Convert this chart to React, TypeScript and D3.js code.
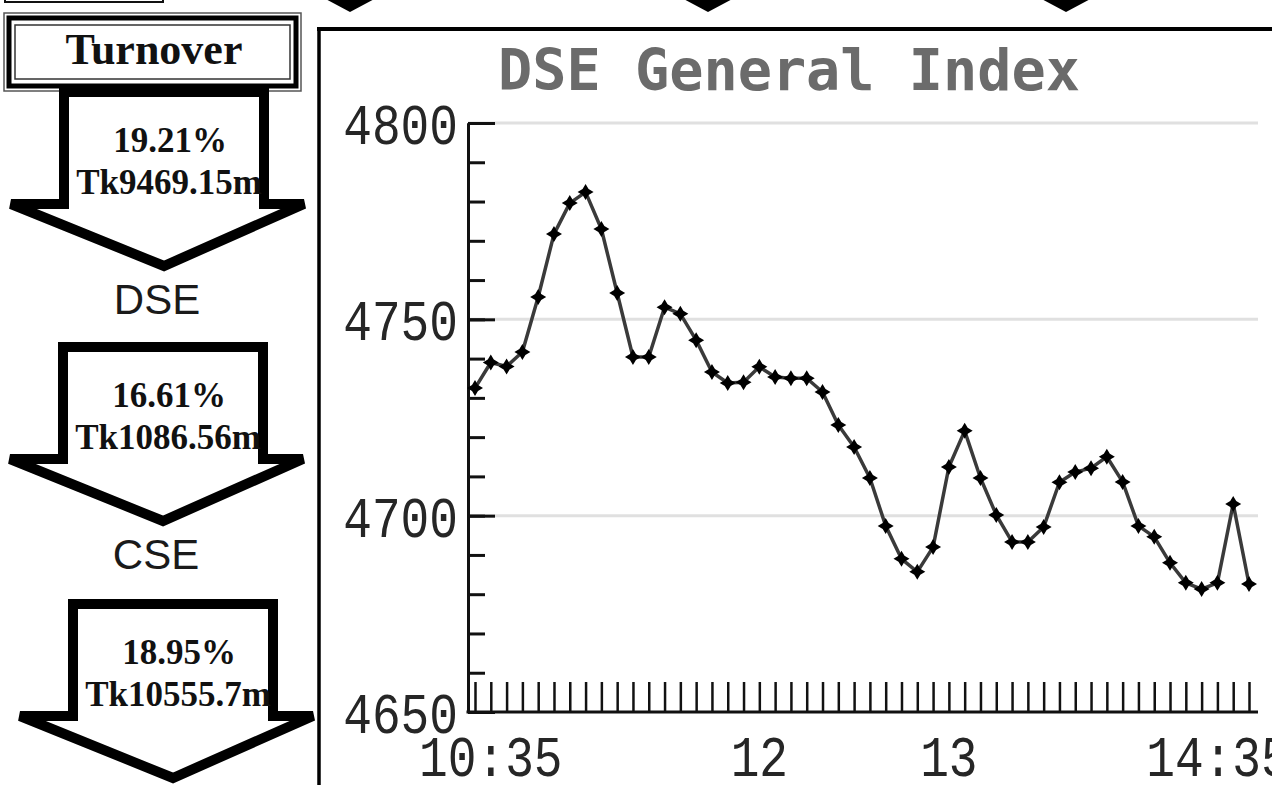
import React, { useEffect, useRef } from 'react'
import * as d3 from 'd3'

const W = 1272
const H = 785

// DSE General Index, one reading every five minutes
const times = ['10:30', '10:35', '10:40', '10:45', '10:50', '10:55', '11:00', '11:05', '11:10', '11:15',
  '11:20', '11:25', '11:30', '11:35', '11:40', '11:45', '11:50', '11:55', '12:00', '12:05',
  '12:10', '12:15', '12:20', '12:25', '12:30', '12:35', '12:40', '12:45', '12:50', '12:55',
  '13:00', '13:05', '13:10', '13:15', '13:20', '13:25', '13:30', '13:35', '13:40', '13:45',
  '13:50', '13:55', '14:00', '14:05', '14:10', '14:15', '14:20', '14:25', '14:30', '14:35']
const indexValues = [4732.5, 4739, 4738, 4741.7, 4755.7, 4771.7, 4779.6, 4782.4, 4773, 4756.7,
  4740.4, 4740.4, 4753.1, 4751.4, 4744.7, 4736.6, 4733.8, 4734, 4737.9, 4735.3,
  4735, 4735, 4731.5, 4723.1, 4717.5, 4709.6, 4697.4, 4689, 4685.7, 4692,
  4712.4, 4721.6, 4709.6, 4700.2, 4693.3, 4693.3, 4697.1, 4708.5, 4711.1, 4712.1,
  4715, 4708.6, 4697.4, 4694.6, 4688, 4682.9, 4681.3, 4682.9, 4703, 4682.6]

const yTicks = [4650, 4700, 4750, 4800]
const xLabelTimes = ['10:35', '12:00', '13:00', '14:35']
const xLabels = ['10:35', '12', '13', '14:35']

// turnover arrows
const markets = ['DSE', 'CSE', '']
const turnoverPct = ['19.21%', '16.61%', '18.95%']
const turnoverAmt = ['Tk9469.15m', 'Tk1086.56m', 'Tk10555.7m']

const parse = d3.timeParse('%H:%M')

export default function App() {
  const ref = useRef<SVGSVGElement>(null)

  useEffect(() => {
    const svg = d3.select(ref.current)
    svg.selectAll('*').remove()

    // bits of the row above, cut off at the top
    svg.append('rect').attr('x', 5).attr('y', -20).attr('width', 158).attr('height', 22)
      .attr('fill', 'none').attr('stroke', '#111').attr('stroke-width', 2)
    ;[350, 708, 1066].forEach(cx => {
      svg.append('path').attr('d', `M${cx - 30},-4L${cx},12L${cx + 30},-4Z`).attr('fill', '#000')
    })

    // Turnover box
    svg.append('rect').attr('x', 4).attr('y', 13).attr('width', 297).attr('height', 78)
      .attr('fill', '#fff').attr('stroke', '#555').attr('stroke-width', 1.5)
    svg.append('rect').attr('x', 9).attr('y', 18).attr('width', 287).attr('height', 68)
      .attr('fill', 'none').attr('stroke', '#000').attr('stroke-width', 5)
    svg.append('rect').attr('x', 15).attr('y', 25).attr('width', 275).attr('height', 54)
      .attr('fill', 'none').attr('stroke', '#333').attr('stroke-width', 1.5)
    svg.append('text').attr('x', 154).attr('y', 64).attr('text-anchor', 'middle')
      .style('font-family', '"Liberation Serif", serif').style('font-weight', 'bold')
      .style('font-size', '44px').attr('fill', '#111').text('Turnover')

    // arrows
    const arrowTops = [92, 347, 604]
    const arrowCx = [164, 163, 173]
    const arrowPath = (cx: number, top: number) => {
      const p = d3.path()
      p.moveTo(cx - 100, top)
      p.lineTo(cx + 100, top)
      p.lineTo(cx + 100, top + 112)
      p.lineTo(cx + 140, top + 112)
      p.lineTo(cx, top + 174)
      p.lineTo(cx - 153, top + 112)
      p.lineTo(cx - 100, top + 112)
      p.closePath()
      return p.toString()
    }
    turnoverPct.forEach((pct, i) => {
      const cx = arrowCx[i]
      const top = arrowTops[i]
      svg.append('path').attr('d', arrowPath(cx, top)).attr('fill', '#fff')
        .attr('stroke', '#000').attr('stroke-width', 10).attr('stroke-linejoin', 'miter')
      const t = svg.append('g').attr('text-anchor', 'middle')
        .style('font-family', '"Liberation Serif", serif').style('font-weight', 'bold')
        .style('font-size', '35px').attr('fill', '#111')
      t.append('text').attr('x', cx + 6).attr('y', top + 60).text(pct)
      t.append('text').attr('x', cx + 5).attr('y', top + 102).text(turnoverAmt[i])
      if (markets[i]) {
        svg.append('text').attr('x', cx - 7).attr('y', top + 222).attr('text-anchor', 'middle')
          .style('font-family', '"Liberation Sans", Arial, sans-serif').style('font-size', '42px')
          .attr('fill', '#1a1a1a').text(markets[i])
      }
    })

    // chart frame
    svg.append('line').attr('x1', 319).attr('x2', 319).attr('y1', 27).attr('y2', H)
      .attr('stroke', '#000').attr('stroke-width', 3.5)
    svg.append('line').attr('x1', 317).attr('x2', W).attr('y1', 29).attr('y2', 29)
      .attr('stroke', '#000').attr('stroke-width', 4)

    svg.append('text').attr('x', 789).attr('y', 90).attr('text-anchor', 'middle')
      .style('font-family', '"DejaVu Sans Mono", monospace').style('font-weight', 'bold')
      .style('font-size', '57px').attr('fill', '#6b6b6b')
      .attr('textLength', 582).attr('lengthAdjust', 'spacingAndGlyphs')
      .text('DSE General Index')

    const x = d3.scaleTime().domain([parse(times[0])!, parse(times[times.length - 1])!]).range([475, 1249])
    const y = d3.scaleLinear().domain([4650, 4800]).range([712, 123])
    const axisX0 = 468
    const axisX1 = 1258

    // gridlines
    svg.append('g').selectAll('line').data(yTicks.filter(v => v > 4650)).join('line')
      .attr('x1', axisX0).attr('x2', axisX1).attr('y1', d => y(d)).attr('y2', d => y(d))
      .attr('stroke', '#e0e0e0').attr('stroke-width', 3)

    // y axis: minor and major ticks pointing inwards
    const yMinor = svg.append('g').attr('transform', `translate(${axisX0},0)`)
      .call(d3.axisRight(y).ticks(15).tickSize(17).tickSizeOuter(0).tickFormat(() => ''))
    const yMajor = svg.append('g').attr('transform', `translate(${axisX0},0)`)
      .call(d3.axisRight(y).tickValues(yTicks).tickSize(27).tickSizeOuter(0).tickFormat(() => ''))
    ;[yMinor, yMajor].forEach(g => {
      g.selectAll('line').attr('stroke', '#111').attr('stroke-width', 3)
      g.select('.domain').attr('stroke', '#111').attr('stroke-width', 3)
    })

    const labelFont = (sel: d3.Selection<SVGTextElement, any, any, any>) =>
      sel.style('font-family', '"Liberation Mono", monospace').style('font-size', '57px')
        .attr('fill', '#262626').attr('lengthAdjust', 'spacingAndGlyphs')

    svg.append('g').selectAll('text').data(yTicks).join('text')
      .attr('x', 458).attr('y', d => y(d) + 21).attr('text-anchor', 'end')
      .call(labelFont)
      .attr('textLength', d => String(d).length * 28.7)
      .text(d => String(d))

    // x axis: ticks pointing up
    const xAxis = svg.append('g').attr('transform', 'translate(0,712)')
      .call(d3.axisTop(x).tickValues(times.map(t => parse(t)!)).tickSize(30).tickSizeOuter(0).tickFormat(() => ''))
    xAxis.select('.domain').remove()
    xAxis.selectAll('line').attr('stroke', '#111').attr('stroke-width', 2.5)
    svg.append('line').attr('x1', axisX0 - 1.5).attr('x2', axisX1).attr('y1', 712).attr('y2', 712)
      .attr('stroke', '#111').attr('stroke-width', 3)

    svg.append('g').selectAll('text').data(xLabels).join('text')
      .attr('x', (d, i) => Math.min(x(parse(xLabelTimes[i])!), axisX1 - 40))
      .attr('y', 776).attr('text-anchor', 'middle')
      .call(labelFont)
      .attr('textLength', d => d.length * 28.7)
      .text(d => d)

    // index line
    const pts = times.map((t, i) => ({ t: parse(t)!, v: indexValues[i] }))
    svg.append('path').datum(pts)
      .attr('d', d3.line<{ t: Date, v: number }>().x(d => x(d.t)).y(d => y(d.v)))
      .attr('fill', 'none').attr('stroke', '#3a3a3a').attr('stroke-width', 3.5)
      .attr('stroke-linejoin', 'round')

    const star = 'M0,-8L3,-3L8,0L3,3L0,8L-3,3L-8,0L-3,-3Z'
    svg.append('g').selectAll('path').data(pts).join('path')
      .attr('transform', d => `translate(${x(d.t)},${y(d.v)})`)
      .attr('d', star).attr('fill', '#000')
  }, [])

  return (
    <svg ref={ref} width={W} height={H}
      style={{ position: 'absolute', left: 0, top: 0, display: 'block', background: '#fff', overflow: 'hidden' }} />
  )
}
